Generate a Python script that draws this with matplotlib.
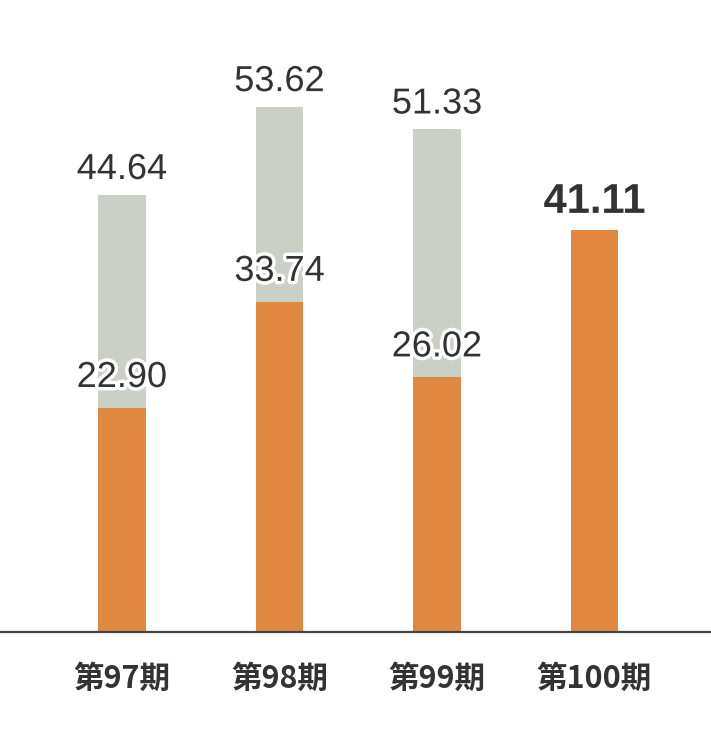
import matplotlib.pyplot as plt
import matplotlib.patheffects as pe

periods = ["第97期", "第98期", "第99期", "第100期"]
total = [44.64, 53.62, 51.33, None]
ordinary = [22.90, 33.74, 26.02, 41.11]

grey = "#cbd0c6"
orange = "#e08840"
txt = "#333333"

fig = plt.figure(figsize=(7.11, 7.38), dpi=100)
ax = fig.add_axes([0, 106 / 738, 1, 632 / 738])

x = list(range(len(periods)))
w = 0.30
for i in x:
    if total[i] is not None:
        ax.bar(i, total[i], width=w, color=grey, zorder=1)
    ax.bar(i, ordinary[i], width=w, color=orange, zorder=2)

stroke = [pe.withStroke(linewidth=5, foreground="white")]
for i in x:
    if total[i] is not None:
        ax.annotate(f"{total[i]:.2f}", (i, total[i]), xytext=(0, 11.5),
                    textcoords="offset points", ha="center", va="baseline",
                    fontsize=26, color=txt, family="Liberation Sans",
                    path_effects=stroke, zorder=5)
        ax.annotate(f"{ordinary[i]:.2f}", (i, ordinary[i]), xytext=(0, 15),
                    textcoords="offset points", ha="center", va="baseline",
                    fontsize=26, color=txt, family="Liberation Sans",
                    path_effects=stroke, zorder=5)
    else:
        ax.annotate(f"{ordinary[i]:.2f}", (i, ordinary[i]), xytext=(0, 12),
                    textcoords="offset points", ha="center", va="baseline",
                    fontsize=30, fontweight="bold", color=txt,
                    family="Liberation Sans", path_effects=stroke, zorder=5)

ax.set_xlim(-122 / 157.5, (711 - 122) / 157.5)
ax.set_ylim(0, 632 / 9.79)
ax.set_xticks(x)
ax.set_xticklabels(periods, fontsize=22, fontweight="bold", color=txt,
                   family=["Noto Sans CJK JP", "DejaVu Sans"])
ax.tick_params(axis="x", length=0, pad=22)
ax.set_yticks([])
for s in ["top", "left", "right"]:
    ax.spines[s].set_visible(False)
ax.spines["bottom"].set_color("#444444")
ax.spines["bottom"].set_linewidth(1.6)
ax.set_facecolor("white")

fig.savefig("out.png", dpi=100, facecolor="white")
